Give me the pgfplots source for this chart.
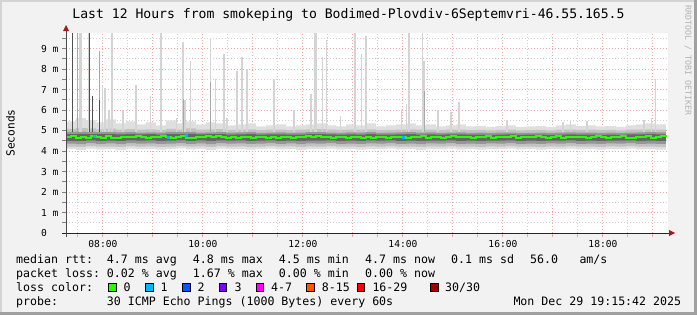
\documentclass[border=0pt]{standalone}
\usepackage{pgfplots}
\usepackage{pgfplotstable}
\pgfplotsset{compat=1.18}
\usepgfplotslibrary{fillbetween}
\usepackage{fontspec}
\setmainfont{DejaVu Sans Mono}
\definecolor{bgcol}{HTML}{F2F2F2}
\definecolor{shadeA}{HTML}{D4D4D4}
\definecolor{shadeB}{HTML}{A0A0A0}
\definecolor{gridred}{HTML}{F2A6A6}
\definecolor{gridgray}{HTML}{CFCFCF}
\definecolor{arrowred}{HTML}{A11B1B}
\definecolor{smokeA}{HTML}{DFDFDF}
\definecolor{smokeB}{HTML}{C2C2C2}
\definecolor{smokeC}{HTML}{969696}
\definecolor{smokeD}{HTML}{666666}
\definecolor{spikeL}{HTML}{D4D4D4}
\definecolor{spikeM}{HTML}{A8A8A8}
\definecolor{spikeD}{HTML}{505050}
\definecolor{loss0}{HTML}{26FF00}
\definecolor{loss1}{HTML}{00B8FF}
\definecolor{loss2}{HTML}{0059FF}
\definecolor{loss3}{HTML}{7E00FF}
\definecolor{loss4}{HTML}{FF00FF}
\definecolor{loss8}{HTML}{FF5500}
\definecolor{loss16}{HTML}{FF0000}
\definecolor{loss30}{HTML}{A10000}
\pagecolor{bgcol}

\pgfplotstableread{
x a b c d e f g h
7.26 4.10 5.45 4.22 5.08 4.36 4.93 4.50 4.83
7.46 4.06 5.60 4.20 5.12 4.34 4.95 4.49 4.84
7.66 4.12 5.50 4.24 5.10 4.38 4.94 4.52 4.83
7.86 4.08 5.40 4.21 5.06 4.35 4.92 4.50 4.82
8.06 4.10 5.55 4.22 5.09 4.37 4.93 4.51 4.82
8.26 4.05 5.35 4.20 5.05 4.34 4.91 4.50 4.81
8.46 4.12 5.45 4.24 5.07 4.38 4.92 4.52 4.82
8.66 4.09 5.30 4.21 5.04 4.36 4.90 4.51 4.81
8.86 4.11 5.40 4.23 5.06 4.37 4.91 4.52 4.82
9.06 4.07 5.25 4.20 5.03 4.35 4.90 4.50 4.80
9.26 4.10 5.50 4.22 5.08 4.36 4.93 4.51 4.82
9.46 4.13 5.35 4.25 5.05 4.39 4.92 4.53 4.83
9.66 4.08 5.45 4.21 5.10 4.35 4.94 4.50 4.84
9.86 4.10 5.30 4.23 5.04 4.37 4.90 4.52 4.81
10.06 4.06 5.40 4.20 5.06 4.34 4.91 4.49 4.82
10.26 4.12 5.35 4.24 5.07 4.38 4.92 4.52 4.82
10.46 4.09 5.25 4.22 5.03 4.36 4.90 4.51 4.80
10.66 4.11 5.30 4.23 5.05 4.37 4.91 4.52 4.81
10.86 4.07 5.35 4.20 5.06 4.35 4.92 4.50 4.82
11.06 4.10 5.20 4.22 5.02 4.36 4.89 4.51 4.80
11.26 4.12 5.25 4.24 5.04 4.38 4.90 4.52 4.81
11.46 4.08 5.30 4.21 5.05 4.35 4.91 4.50 4.81
11.66 4.10 5.20 4.23 5.02 4.37 4.89 4.51 4.80
11.86 4.06 5.25 4.20 5.04 4.34 4.90 4.49 4.80
12.06 4.11 5.30 4.23 5.06 4.37 4.92 4.51 4.82
12.26 4.09 5.35 4.22 5.07 4.36 4.92 4.51 4.82
12.46 4.12 5.25 4.24 5.04 4.38 4.90 4.52 4.81
12.66 4.08 5.20 4.21 5.03 4.35 4.89 4.50 4.80
12.86 4.10 5.30 4.22 5.05 4.36 4.91 4.51 4.81
13.06 4.07 5.25 4.20 5.04 4.35 4.90 4.50 4.80
13.26 4.11 5.35 4.23 5.06 4.37 4.92 4.52 4.82
13.46 4.09 5.20 4.22 5.02 4.36 4.89 4.51 4.80
13.66 4.12 5.25 4.24 5.03 4.38 4.90 4.52 4.80
13.86 4.08 5.30 4.21 5.05 4.35 4.91 4.50 4.81
14.06 4.10 5.35 4.22 5.06 4.36 4.92 4.51 4.82
14.26 4.06 5.25 4.20 5.04 4.34 4.90 4.49 4.80
14.46 4.11 5.30 4.23 5.05 4.37 4.91 4.51 4.81
14.66 4.09 5.20 4.22 5.02 4.36 4.89 4.51 4.80
14.86 4.12 5.25 4.24 5.04 4.38 4.90 4.52 4.81
15.06 4.08 5.30 4.21 5.05 4.35 4.91 4.50 4.81
15.26 4.10 5.20 4.22 5.02 4.36 4.89 4.51 4.80
15.46 4.07 5.22 4.20 5.03 4.35 4.90 4.50 4.80
15.66 4.11 5.18 4.23 5.01 4.37 4.88 4.51 4.79
15.86 4.09 5.22 4.22 5.03 4.36 4.90 4.51 4.80
16.06 4.12 5.25 4.24 5.04 4.38 4.90 4.52 4.81
16.26 4.08 5.18 4.21 5.01 4.35 4.88 4.50 4.79
16.46 4.10 5.20 4.22 5.02 4.36 4.89 4.51 4.80
16.66 4.07 5.22 4.20 5.03 4.35 4.90 4.50 4.80
16.86 4.11 5.18 4.23 5.01 4.37 4.88 4.51 4.79
17.06 4.09 5.25 4.22 5.04 4.36 4.90 4.51 4.80
17.26 4.12 5.30 4.24 5.05 4.38 4.91 4.52 4.81
17.46 4.08 5.22 4.21 5.03 4.35 4.90 4.50 4.80
17.66 4.10 5.25 4.22 5.04 4.36 4.90 4.51 4.80
17.86 4.07 5.20 4.20 5.02 4.35 4.89 4.50 4.79
18.06 4.11 5.22 4.23 5.03 4.37 4.90 4.51 4.80
18.26 4.09 5.18 4.22 5.01 4.36 4.88 4.51 4.79
18.46 4.12 5.25 4.24 5.04 4.38 4.90 4.52 4.81
18.66 4.08 5.30 4.21 5.05 4.35 4.91 4.50 4.81
18.86 4.10 5.35 4.22 5.06 4.36 4.92 4.51 4.82
19.06 4.07 5.30 4.20 5.05 4.35 4.91 4.50 4.81
19.26 4.07 5.30 4.20 5.05 4.35 4.91 4.50 4.81
}\band

\pgfplotstableread{
x m
7.26 4.68
7.36 4.74
7.46 4.66
7.56 4.70
7.66 4.64
7.76 4.74
7.86 4.70
7.96 4.66
8.06 4.72
8.16 4.64
8.26 4.66
8.36 4.68
8.46 4.70
8.56 4.69
8.66 4.72
8.76 4.70
8.86 4.66
8.96 4.70
9.06 4.68
9.16 4.72
9.26 4.67
9.36 4.64
9.46 4.70
9.56 4.73
9.66 4.66
9.76 4.62
9.86 4.70
9.96 4.68
10.06 4.71
10.16 4.68
10.26 4.74
10.36 4.68
10.46 4.66
10.56 4.69
10.66 4.64
10.76 4.67
10.86 4.69
10.96 4.66
11.06 4.68
11.16 4.70
11.26 4.66
11.36 4.68
11.46 4.66
11.56 4.69
11.66 4.70
11.76 4.66
11.86 4.68
11.96 4.70
12.06 4.72
12.16 4.68
12.26 4.71
12.36 4.69
12.46 4.70
12.56 4.66
12.66 4.70
12.76 4.68
12.86 4.66
12.96 4.70
13.06 4.68
13.16 4.66
13.26 4.70
13.36 4.64
13.46 4.67
13.56 4.70
13.66 4.66
13.76 4.68
13.86 4.70
13.96 4.67
14.06 4.66
14.16 4.70
14.26 4.68
14.36 4.72
14.46 4.66
14.56 4.68
14.66 4.70
14.76 4.66
14.86 4.68
14.96 4.71
15.06 4.67
15.16 4.70
15.26 4.68
15.36 4.66
15.46 4.70
15.56 4.68
15.66 4.71
15.76 4.66
15.86 4.69
15.96 4.67
16.06 4.70
16.16 4.72
16.26 4.66
16.36 4.68
16.46 4.70
16.56 4.67
16.66 4.71
16.76 4.68
16.86 4.65
16.96 4.69
17.06 4.71
17.16 4.66
17.26 4.68
17.36 4.70
17.46 4.67
17.56 4.69
17.66 4.66
17.76 4.70
17.86 4.72
17.96 4.68
18.06 4.66
18.16 4.70
18.26 4.68
18.36 4.72
18.46 4.66
18.56 4.62
18.66 4.70
18.76 4.68
18.86 4.72
18.96 4.66
19.06 4.70
19.16 4.73
19.26 4.70
}\med

\newcommand\lgd[3]{\node[anchor=base west, inner sep=0pt] at (#1,#2) {#3};}
\newcommand\lbox[3]{\filldraw[fill=#3, draw=black, line width=0.8bp] (#1,#2) rectangle ++(7.3,8);}

\begin{document}
\begin{tikzpicture}
\begin{axis}[
  at={(66bp,82bp)}, anchor=south west, scale only axis,
  width=602bp, height=200bp,
  xmin=7.2617, xmax=19.3017, ymin=0, ymax=9.76,
  axis x line*=bottom, axis y line*=left,
  axis line style={draw=none},
  axis background/.style={fill=white},
  xtick={8,...,19},
  xticklabels={08:00,,10:00,,12:00,,14:00,,16:00,,18:00,},
  minor xtick={7.5,8.5,...,18.5},
  ytick={0,...,9},
  yticklabels={\makebox[17.4bp][l]{0},1 m,2 m,3 m,4 m,5 m,6 m,7 m,8 m,9 m},
  minor ytick={0.5,1.5,...,9.5},
  grid=both,
  major grid style={draw=gridred, dash pattern=on 1bp off 2bp, line width=1bp},
  minor grid style={draw=gridgray, dash pattern=on 1bp off 2bp, line width=1bp},
  tick align=outside,
  major tick length=4bp, minor tick length=4bp,
  xtick style={draw=gridred, line width=1bp},
  ytick style={draw=gray, line width=1bp},
  minor tick style={draw=gridgray},
  tick label style={font=\fontsize{9.6bp}{10bp}\selectfont},
  unbounded coords=jump,
]
\addplot[name path=alo, draw=none, const plot] table[x=x,y=a]{\band};
\addplot[name path=ahi, draw=none, const plot] table[x=x,y=b]{\band};
\addplot[fill=smokeA, draw=none] fill between[of=alo and ahi];
\addplot[name path=blo, draw=none, const plot] table[x=x,y=c]{\band};
\addplot[name path=bhi, draw=none, const plot] table[x=x,y=d]{\band};
\addplot[fill=smokeB, draw=none] fill between[of=blo and bhi];
\addplot[name path=clo, draw=none, const plot] table[x=x,y=e]{\band};
\addplot[name path=chi, draw=none, const plot] table[x=x,y=f]{\band};
\addplot[fill=smokeC, draw=none] fill between[of=clo and chi];
\addplot[name path=dlo, draw=none, const plot] table[x=x,y=g]{\band};
\addplot[name path=dhi, draw=none, const plot] table[x=x,y=h]{\band};
\addplot[fill=smokeD, draw=none] fill between[of=dlo and dhi];

% light thin spikes
\addplot[draw=spikeL, line width=1.5bp] coordinates {
(7.996,4.95) (7.996,7.2) (7.996,nan)
(8.042,4.95) (8.042,7.1) (8.042,nan)
(8.122,4.95) (8.122,6.0) (8.122,nan)
(8.182,4.95) (8.182,9.76) (8.182,nan)
(8.402,4.95) (8.402,6.0) (8.402,nan)
(8.662,4.95) (8.662,7.2) (8.662,nan)
(8.956,4.95) (8.956,6.7) (8.956,nan)
(9.476,4.95) (9.476,5.6) (9.476,nan)
(9.642,4.95) (9.642,6.5) (9.642,nan)
(9.756,4.95) (9.756,8.4) (9.756,nan)
(10.156,4.95) (10.156,9.5) (10.156,nan)
(10.248,4.95) (10.248,7.5) (10.248,nan)
(10.422,4.95) (10.422,8.75) (10.422,nan)
(10.482,4.95) (10.482,5.6) (10.482,nan)
(10.682,4.95) (10.682,7.9) (10.682,nan)
(10.782,4.95) (10.782,8.6) (10.782,nan)
(10.882,4.95) (10.882,8.0) (10.882,nan)
(11.422,4.95) (11.422,7.5) (11.422,nan)
(11.822,4.95) (11.822,6.0) (11.822,nan)
(12.396,4.95) (12.396,8.6) (12.396,nan)
(12.476,4.95) (12.476,9.4) (12.476,nan)
(12.756,4.95) (12.756,5.7) (12.756,nan)
(13.176,4.95) (13.176,8.75) (13.176,nan)
(13.262,4.95) (13.262,9.6) (13.262,nan)
(13.976,4.95) (13.976,6.0) (13.976,nan)
(14.076,4.95) (14.076,6.3) (14.076,nan)
(14.396,4.95) (14.396,9.76) (14.396,nan)
(14.702,4.95) (14.702,6.0) (14.702,nan)
(14.962,4.95) (14.962,5.9) (14.962,nan)
(15.122,4.95) (15.122,6.4) (15.122,nan)
(16.082,4.95) (16.082,5.5) (16.082,nan)
(17.202,4.95) (17.202,5.4) (17.202,nan)
(17.356,4.95) (17.356,5.5) (17.356,nan)
(17.682,4.95) (17.682,5.45) (17.682,nan)
(18.822,4.95) (18.822,5.5) (18.822,nan)
(18.976,4.95) (18.976,5.6) (18.976,nan)
(19.056,4.95) (19.056,7.5)
};
% light wide spikes
\addplot[draw=spikeL, line width=2.5bp] coordinates {
(7.556,4.95) (7.556,9.76) (7.556,nan)
(7.722,4.95) (7.722,9.76) (7.722,nan)
(9.162,4.95) (9.162,9.76) (9.162,nan)
(9.602,4.95) (9.602,9.3) (9.602,nan)
(12.162,4.95) (12.162,6.8) (12.162,nan)
(12.248,4.95) (12.248,9.76) (12.248,nan)
(13.042,4.95) (13.042,9.76) (13.042,nan)
(14.122,4.95) (14.122,9.76) (14.122,nan)
(14.422,4.95) (14.422,8.4)
};
% medium spikes
\addplot[draw=spikeM, line width=1bp] coordinates {
(7.482,4.95) (7.482,9.76) (7.482,nan)
(7.922,4.95) (7.922,8.9) (7.922,nan)
(9.602,4.95) (9.602,6.55) (9.602,nan)
(10.156,4.95) (10.156,7.35) (10.156,nan)
(14.422,4.95) (14.422,6.95)
};
% dark spikes
\addplot[draw=spikeD, line width=1bp] coordinates {
(7.392,4.95) (7.392,9.76) (7.392,nan)
(7.722,4.95) (7.722,9.76) (7.722,nan)
(7.796,4.95) (7.796,6.7) (7.796,nan)
(7.922,4.95) (7.922,6.5)
};

\addplot[const plot, draw=loss0, line width=2bp] table[x=x,y=m]{\med};
\addplot[only marks, mark=square*, mark size=1.1bp, mark options={draw=loss1, fill=loss1}] coordinates {
(7.83,4.72) (9.31,4.67) (9.66,4.76) (14.01,4.66)
};
\end{axis}

\begin{scope}[x=1bp,y=1bp]
\fill[shadeA] (0,0) rectangle (2,315);
\fill[shadeA] (0,313) rectangle (697,315);
\fill[shadeB] (694,0) rectangle (697,315);
\fill[shadeB] (0,0) rectangle (697,3);
% axis lines and arrows
\draw[black!85, line width=1bp] (62,82) -- (669,82);
\fill[arrowred] (669,79) -- (675,82) -- (669,85) -- cycle;
\draw[black!70, line width=1bp] (66,78) -- (66,284);
\fill[arrowred] (63,284) -- (66,290) -- (69,284) -- cycle;

% title
\node[anchor=base, inner sep=0pt, font=\fontsize{13.1bp}{15bp}\selectfont] at (348.5,297) {Last 12 Hours from smokeping to Bodimed-Plovdiv-6Septemvri-46.55.165.5};
% y label
\node[rotate=90, inner sep=0pt, font=\fontsize{11.2bp}{13bp}\selectfont] at (10.5,182) {Seconds};
% watermark
\node[rotate=-90, anchor=west, inner sep=0pt, text=black!30, font=\fontsize{8.3bp}{9bp}\selectfont] at (688,310) {RRDTOOL / TOBI OETIKER};

% legend
\begin{scope}[font=\fontsize{11.6bp}{14bp}\selectfont]
\lgd{16}{51.5}{median rtt:}
\lgd{106.7}{51.5}{4.7 ms avg}
\lgd{192.7}{51.5}{4.8 ms max}
\lgd{278.7}{51.5}{4.5 ms min}
\lgd{365}{51.5}{4.7 ms now}
\lgd{451}{51.5}{0.1 ms sd}
\lgd{530}{51.5}{56.0}
\lgd{579.3}{51.5}{am/s}
\lgd{16}{37.5}{packet loss:}
\lgd{106.7}{37.5}{0.02 \% avg}
\lgd{192.7}{37.5}{1.67 \% max}
\lgd{278.7}{37.5}{0.00 \% min}
\lgd{365}{37.5}{0.00 \% now}
\lgd{16}{23.5}{loss color:}
\lbox{108.7}{23.5}{loss0}\lgd{123.3}{23.5}{0}
\lbox{145.7}{23.5}{loss1}\lgd{160.3}{23.5}{1}
\lbox{182.7}{23.5}{loss2}\lgd{197.3}{23.5}{2}
\lbox{219.3}{23.5}{loss3}\lgd{234.3}{23.5}{3}
\lbox{256}{23.5}{loss4}\lgd{271}{23.5}{4-7}
\lbox{306.7}{23.5}{loss8}\lgd{321.7}{23.5}{8-15}
\lbox{357.3}{23.5}{loss16}\lgd{372.3}{23.5}{16-29}
\lbox{430.7}{23.5}{loss30}\lgd{445}{23.5}{30/30}
\lgd{16}{9.8}{probe:}
\lgd{106.7}{9.8}{30 ICMP Echo Pings (1000 Bytes) every 60s}
\lgd{513.3}{9.8}{Mon Dec 29 19:15:42 2025}
\end{scope}
\pgfresetboundingbox
\useasboundingbox (0,0) rectangle (697,315);
\end{scope}
\end{tikzpicture}
\end{document}
